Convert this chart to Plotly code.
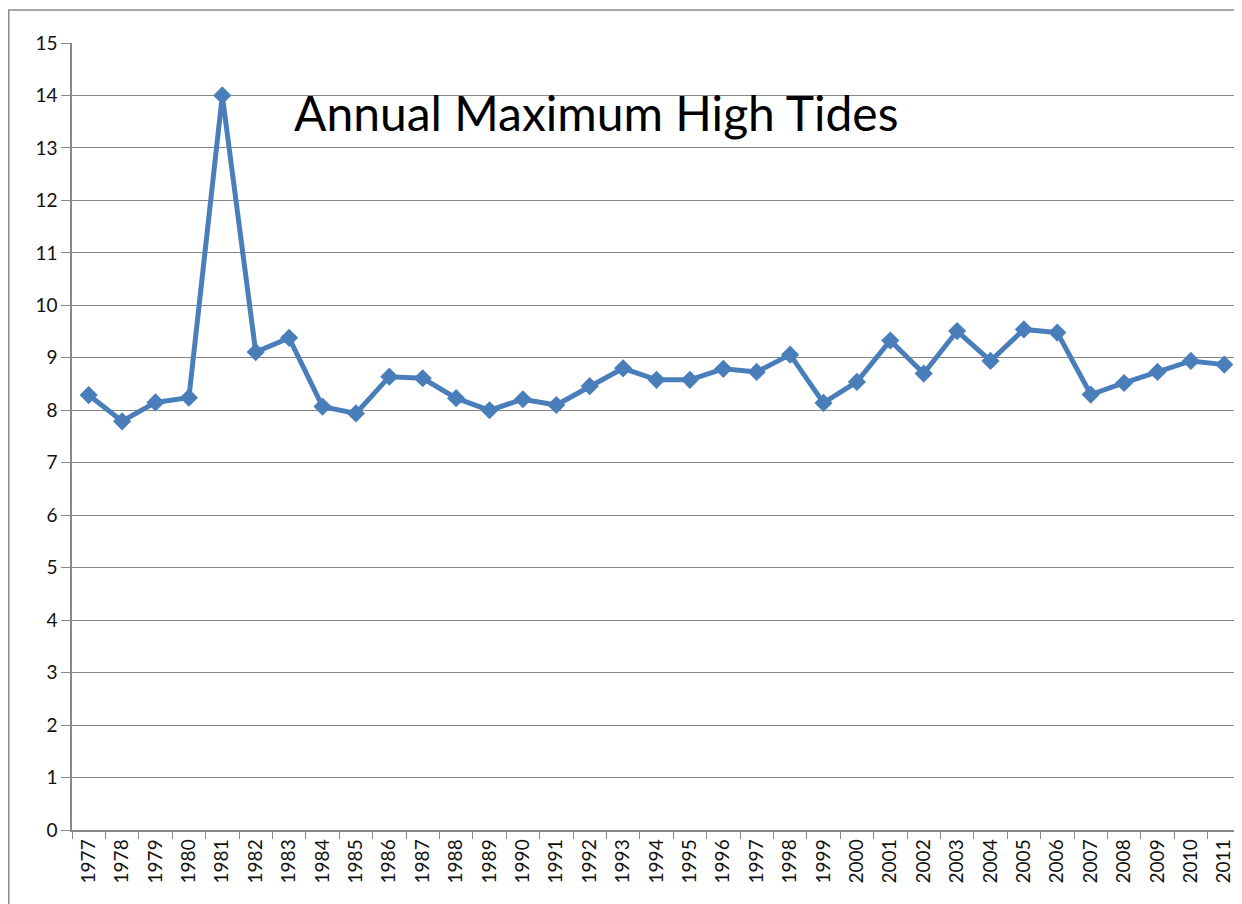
import plotly.graph_objects as go

years = [str(y) for y in range(1977, 2012)]
tides = [8.29, 7.79, 8.15, 8.24, 14.0, 9.11, 9.38, 8.07, 7.94, 8.64,
         8.61, 8.23, 8.0, 8.21, 8.1, 8.46, 8.8, 8.58, 8.58, 8.79,
         8.73, 9.06, 8.14, 8.54, 9.33, 8.7, 9.51, 8.94, 9.54, 9.48,
         8.3, 8.52, 8.73, 8.94, 8.87]
y_ticks = list(range(0, 16))
title_text = "Annual Maximum High Tides"

# page has 8px body margin; figure is offset by (8, 8)
OFF = 8
W, H = 1242 - OFF, 904 - OFF
L, T = 72 - OFF, 43 - OFF
B = 904 - 830
pw = 1241 - 72
R = W - L - pw
ph = H - T - B

fig = go.Figure()
fig.add_trace(go.Scatter(
    x=years, y=tides, mode="lines+markers",
    line=dict(color="#4A7EBB", width=5),
    marker=dict(symbol="diamond", size=14, color="#4A7EBB"),
    showlegend=False, cliponaxis=False,
))

font = "Lato, Carlito, 'Open Sans', sans-serif"
fig.update_layout(
    width=W, height=H,
    margin=dict(l=L, r=R, t=T, b=B),
    paper_bgcolor="white", plot_bgcolor="white",
    font=dict(family=font, size=19, color="#111"),
    xaxis=dict(
        type="category", tickangle=-90, tickson="boundaries",
        ticks="outside", ticklen=7, tickcolor="#888",
        showline=True, linecolor="#888", linewidth=1.5,
        showgrid=False, zeroline=False,
        range=[-0.5, len(years) - 0.5],
        tickfont=dict(family=font, size=19, color="#111"),
    ),
    yaxis=dict(
        range=[0, 15], tickvals=y_ticks,
        ticks="outside", ticklen=9, tickcolor="#888",
        showline=True, linecolor="#888", linewidth=1.5,
        showgrid=True, gridcolor="#868686", gridwidth=1.4,
        zeroline=False,
        tickfont=dict(family=font, size=19, color="#111"),
    ),
)

# outer chart frame
fig.add_shape(type="rect", xref="paper", yref="paper",
              x0=(0.75 - L) / pw, x1=(W + 20 - L) / pw,
              y0=-(B + 20) / ph, y1=1 + (T - 2) / ph,
              line=dict(color="#8a8a8a", width=1.5), fillcolor="rgba(0,0,0,0)",
              layer="below")

fig.add_annotation(text=title_text, xref="paper", yref="paper",
                   x=(292 - 72) / pw, y=(830 - 112) / ph,
                   xanchor="left", yanchor="middle", showarrow=False,
                   font=dict(family=font, size=48, color="#000"))

fig.write_html("out.html")
